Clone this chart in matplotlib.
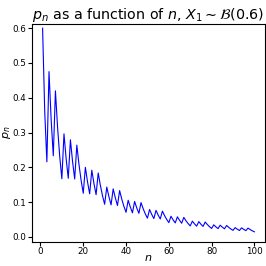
import matplotlib
matplotlib.use('Agg')
import matplotlib.pyplot as plt

# p_n, n = 1..100
n_vals = list(range(1, 101))
p_vals = [0.6000, 0.3600, 0.2160, 0.4752, 0.3370, 0.2333, 0.4199, 0.3154, 0.2318, 0.1673,
          0.2963, 0.2253, 0.1686, 0.2793, 0.2173, 0.1666, 0.2639, 0.2088, 0.1629, 0.1256,
          0.2002, 0.1584, 0.1240, 0.1919, 0.1536, 0.1216, 0.1839, 0.1485, 0.1187, 0.0940,
          0.1434, 0.1156, 0.0923, 0.1383, 0.1123, 0.0904, 0.1333, 0.1089, 0.0882, 0.0709,
          0.1055, 0.0860, 0.0695, 0.1021, 0.0836, 0.0680, 0.0988, 0.0813, 0.0664, 0.0540,
          0.0789, 0.0648, 0.0528, 0.0765, 0.0631, 0.0517, 0.0742, 0.0614, 0.0505, 0.0413,
          0.0596, 0.0492, 0.0404, 0.0579, 0.0480, 0.0395, 0.0563, 0.0467, 0.0386, 0.0318,
          0.0455, 0.0377, 0.0311, 0.0442, 0.0367, 0.0304, 0.0430, 0.0358, 0.0297, 0.0245,
          0.0349, 0.0290, 0.0240, 0.0339, 0.0283, 0.0235, 0.0330, 0.0276, 0.0229, 0.0190,
          0.0269, 0.0224, 0.0186, 0.0262, 0.0219, 0.0182, 0.0255, 0.0213, 0.0178, 0.0148]
xticks = [0, 20, 40, 60, 80, 100]
yticks = [0.0, 0.1, 0.2, 0.3, 0.4, 0.5, 0.6]

fig = plt.figure(figsize=(2.66, 2.66), dpi=100)
ax = fig.add_axes([32/266, 1-241.5/266, 233/266, 217.5/266])
ax.plot(n_vals, p_vals, color='blue', lw=0.8)
ax.set_ylim(-0.013, 0.612)
ax.set_xticks(xticks)
ax.set_yticks(yticks)
ax.tick_params(labelsize=6.3, length=3, pad=1)
ax.set_xlabel('$n$', fontsize=8)
ax.set_ylabel('$p_n$', fontsize=8)
ax.xaxis.set_label_coords(0.5, -0.055)
ax.yaxis.set_label_coords(-0.082, 0.5)
ax.set_title(r'$p_n$ as a function of $n$, $X_1 \sim \mathcal{B}(0.6)$', fontsize=10.3, pad=3)
fig.savefig('out.png', dpi=100)
